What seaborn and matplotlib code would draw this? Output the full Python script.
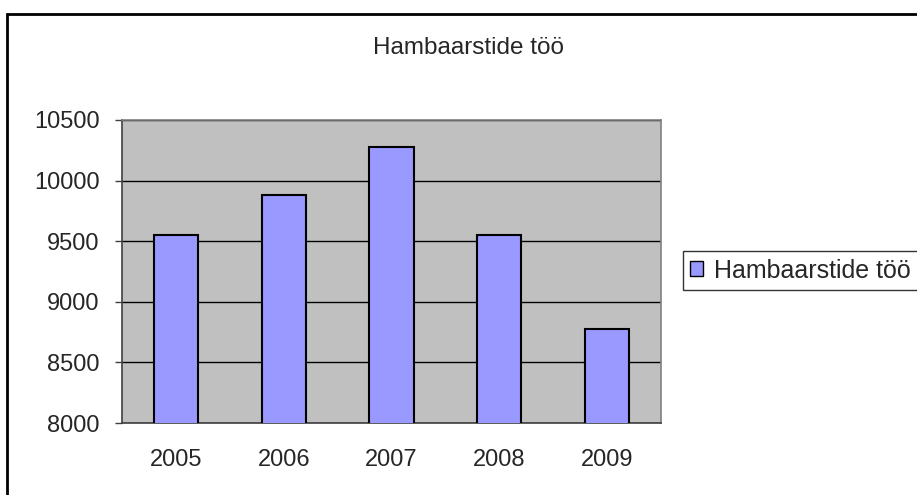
import matplotlib
matplotlib.use("Agg")
import matplotlib.pyplot as plt
import seaborn as sns
import pandas as pd
from matplotlib.patches import Rectangle

years = ["2005", "2006", "2007", "2008", "2009"]
values = [9555, 9878, 10280, 9555, 8775]
series_name = "Hambaarstide töö"
title = "Hambaarstide töö"
yticks = [8000, 8500, 9000, 9500, 10000, 10500]

sns.set_style("white")
plt.rcParams["font.family"] = ["Liberation Sans", "DejaVu Sans"]

df = pd.DataFrame({"year": years, "value": values, "series": series_name})

fig = plt.figure(figsize=(9.17, 4.95), dpi=100)
ax = fig.add_axes([122/917, 1 - 423/495, (661-122)/917, (423-120)/495])
ax.set_facecolor("#C0C0C0")

sns.barplot(data=df, x="year", y="value", hue="series", palette=["#9999FF"],
            saturation=1, width=0.41, edgecolor="black", linewidth=1.5,
            ax=ax, legend=False, zorder=3)

ax.set_ylim(8000, 10500)
ax.set_xlim(-0.5, 4.5)
ax.set_yticks(yticks)
ax.set_yticklabels([str(t) for t in yticks], fontsize=17)
ax.yaxis.grid(True, color="black", linewidth=1)
ax.set_axisbelow(True)
ax.set_xlabel("")
ax.set_ylabel("")
ax.set_xticks(range(len(years)))
ax.set_xticklabels(years, fontsize=17)
ax.tick_params(axis="x", which="major", length=0, pad=19)
ax.set_xticks([i - 0.5 for i in range(len(years) + 1)], minor=True)
ax.tick_params(axis="x", which="minor", length=5, color="#808080", width=1, direction="out")
ax.tick_params(axis="y", length=5, color="#404040", width=1, direction="out", pad=11, left=True)
for s in ax.spines.values():
    s.set_color("#808080")
    s.set_linewidth(1.2)
ax.spines["left"].set_color("#404040")
ax.spines["bottom"].set_color("#404040")

fig.text(469/917, 1 - 53.5/495, title, ha="center", va="baseline", fontsize=17.5)

# legend
handle = Rectangle((0, 0), 1, 1, facecolor="#9999FF", edgecolor="black", linewidth=1)
leg = fig.legend([handle], [series_name], loc="center left",
                 bbox_to_anchor=(683/917, 1 - 270.5/495), fontsize=18,
                 frameon=True, fancybox=False, edgecolor="black",
                 handlelength=0.52, handleheight=0.52, handletextpad=0.45,
                 borderpad=0.28, borderaxespad=0)
leg.get_frame().set_linewidth(1)

# outer chart frame
fig.patches.append(Rectangle((7/917, -0.05), 1.0, 1 - 14/495 + 0.05,
                             transform=fig.transFigure, fill=False,
                             edgecolor="black", linewidth=2))

fig.savefig("out.png", dpi=100)
